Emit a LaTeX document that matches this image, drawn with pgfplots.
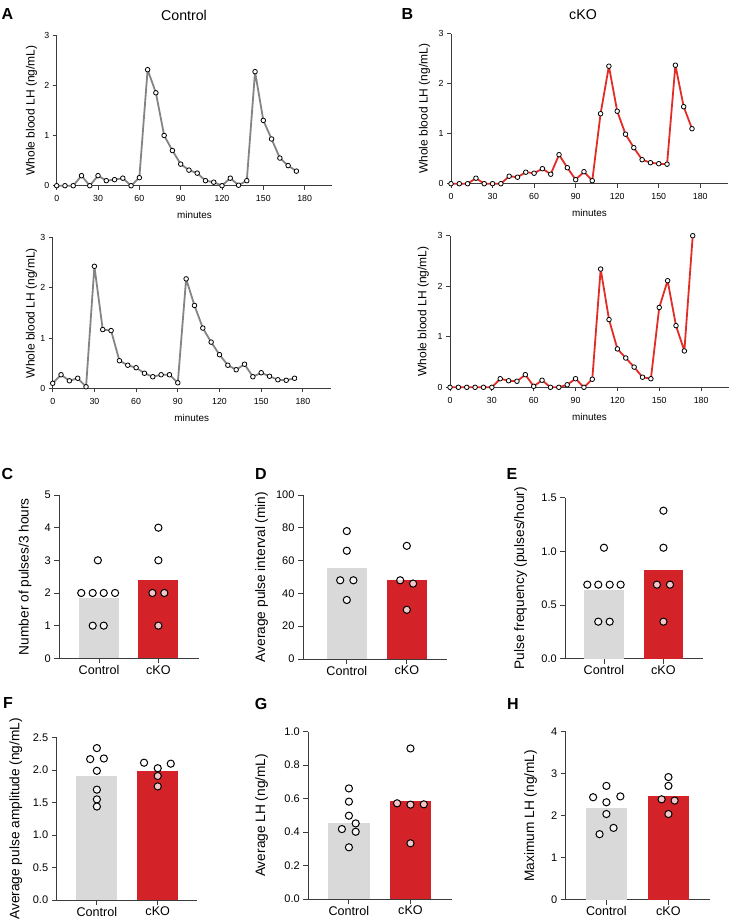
\documentclass[border=0pt]{standalone}
\usepackage{fontspec}
\setmainfont{Liberation Sans}
\usepackage{pgfplots}
\pgfplotsset{compat=1.18}

\definecolor{ctlgray}{RGB}{132,132,132}
\definecolor{kored}{RGB}{225,45,38}
\definecolor{bargray}{RGB}{217,217,217}
\definecolor{barred}{RGB}{211,35,41}
\definecolor{axgray}{RGB}{60,60,60}

\pgfplotsset{
  panel/.style={scale only axis, clip=false, anchor=south west,
    axis x line*=bottom, axis y line*=left,
    axis line style={-, axgray, line width=0.9pt},
    major tick style={axgray, line width=0.9pt},
    tick align=outside,
    /pgf/number format/assume math mode=true},
  lhtrace/.style={panel, xmin=0, xmax=200, ymin=0, ymax=3,
    xtick={0,30,...,180}, ytick={0,1,2,3}, major tick length=4pt,
    tick label style={font=\fontsize{8.8}{10}\selectfont},
    xticklabel style={yshift=-2.5pt},
    ylabel={Whole blood LH (ng/mL)},
    ylabel style={font=\fontsize{12}{14}\selectfont, anchor=center},
    xlabel={minutes},
    xlabel style={font=\fontsize{9.9}{12}\selectfont,
      at={(axis description cs:0.5,-0.195)}, anchor=center}},
  trace/.style={line width=1.8pt, line join=round, mark=*, mark size=2.3pt,
    mark options={fill=white, draw=black, line width=0.8pt}},
  barpanel/.style={panel, ymin=0, xtick={0,1}, xticklabels={Control,cKO},
    major tick length=5pt,
    yticklabel style={font=\fontsize{11}{13}\selectfont},
    xticklabel style={font=\fontsize{12.6}{14}\selectfont, yshift=1.5pt},
    ylabel style={font=\fontsize{13.7}{16}\selectfont, anchor=center}},
  onedec/.style={yticklabel style={/pgf/number format/.cd, fixed, fixed zerofill, precision=1}},
  mean/.style={ybar, bar width=0.67, bar shift=0pt, draw=none, fill=#1},
  dots/.style={only marks, mark=*, mark size=3.6pt,
    mark options={fill=white, fill opacity=0.75, draw=black, line width=1pt}},
}

% LH traces, sampled every 6 min
\pgfplotstableread{
t  ctlA  ctlB  koA   koB
0   0.00 0.10 0.00 0.00
6   0.00 0.27 0.00 0.00
12  0.00 0.15 0.00 0.00
18  0.20 0.20 0.11 0.00
24  0.00 0.03 0.00 0.00
30  0.20 2.43 0.00 0.00
36  0.10 1.17 0.00 0.17
42  0.12 1.15 0.15 0.13
48  0.15 0.55 0.13 0.12
54  0.00 0.46 0.23 0.25
60  0.16 0.41 0.21 0.02
66  2.31 0.30 0.30 0.14
72  1.85 0.23 0.19 0.00
78  1.00 0.27 0.58 0.00
84  0.70 0.27 0.32 0.05
90  0.43 0.11 0.08 0.17
96  0.31 2.18 0.24 0.00
102 0.25 1.65 0.06 0.16
108 0.10 1.20 1.40 2.34
114 0.07 0.92 2.35 1.34
120 0.00 0.67 1.45 0.76
126 0.15 0.46 0.99 0.58
132 0.01 0.37 0.72 0.40
138 0.10 0.48 0.48 0.20
144 2.27 0.23 0.42 0.17
150 1.30 0.31 0.40 1.58
156 0.93 0.24 0.39 2.11
162 0.55 0.17 2.37 1.22
168 0.40 0.16 1.54 0.72
174 0.29 0.20 1.10 3.00
}\lhdata

\begin{document}
\begin{tikzpicture}
\path[use as bounding box] (0pt,0pt) rectangle (755pt,-924pt);

% ---- A / B traces ----
\node[font=\bfseries\fontsize{16}{18}\selectfont] at (7.5pt,-14pt) {A};
\node[font=\bfseries\fontsize{16}{18}\selectfont] at (407.5pt,-14pt) {B};
\node[font=\fontsize{14.2}{16}\selectfont] at (184pt,-15pt) {Control};
\node[font=\fontsize{14.2}{16}\selectfont] at (583pt,-15pt) {cKO};

\begin{axis}[lhtrace, at={(56.7pt,-185.7pt)}, width=275.5pt, height=150.7pt,
  ylabel style={at={(axis description cs:-0.091,0.5)}}]
  \addplot[trace, ctlgray] table[x=t, y=ctlA] {\lhdata};
\end{axis}
\begin{axis}[lhtrace, at={(52.7pt,-388.3pt)}, width=278pt, height=150.6pt,
  ylabel style={at={(axis description cs:-0.076,0.5)}}]
  \addplot[trace, ctlgray] table[x=t, y=ctlB] {\lhdata};
\end{axis}
\begin{axis}[lhtrace, at={(451pt,-183.7pt)}, width=277pt, height=150pt,
  ylabel style={at={(axis description cs:-0.096,0.5)}}]
  \addplot[trace, kored] table[x=t, y=koA] {\lhdata};
\end{axis}
\begin{axis}[lhtrace, at={(450pt,-387.3pt)}, width=279pt, height=151.6pt,
  ylabel style={at={(axis description cs:-0.096,0.5)}}]
  \addplot[trace, kored] table[x=t, y=koB] {\lhdata};
\end{axis}

% ---- C-H summaries ----
\foreach \l/\x/\y in {C/7.5/474, D/261/474, E/512/474, F/8/702.5, G/261/704, H/513/704}
  \node[font=\bfseries\fontsize{16}{18}\selectfont] at (\x pt,-\y pt) {\l};

\begin{axis}[barpanel, at={(59.3pt,-658.3pt)}, width=140pt, height=163.3pt,
  xmin=-0.67, xmax=1.69, ymax=5, ytick={0,...,5},
  ylabel={Number of pulses/3 hours},
  ylabel style={at={(axis description cs:-0.245,0.5)}}]
  \addplot[mean=bargray] coordinates {(0,1.857)};
  \addplot[mean=barred] coordinates {(1,2.4)};
  \addplot[dots] coordinates {(-0.02,3) (-0.30,2) (-0.107,2) (0.079,2) (0.27,2) (-0.107,1) (0.079,1)};
  \addplot[dots] coordinates {(1,4) (1,3) (0.9,2) (1.1,2) (1,1)};
\end{axis}

\begin{axis}[barpanel, at={(303pt,-659pt)}, width=144pt, height=164pt,
  xmin=-0.73, xmax=1.67, ymax=100, ytick={0,20,...,100},
  ylabel={Average pulse interval (min)},
  ylabel style={at={(axis description cs:-0.287,0.5)}}]
  \addplot[mean=bargray] coordinates {(0,55.2)};
  \addplot[mean=barred] coordinates {(1,48.25)};
  \addplot[dots] coordinates {(0,78) (0,66) (-0.11,48) (0.11,48) (0,36)};
  \addplot[dots] coordinates {(1,69) (0.89,48) (1.105,46) (1,30)};
\end{axis}

\begin{axis}[barpanel, onedec, at={(565.3pt,-658.7pt)}, width=137.4pt, height=161pt,
  xmin=-0.65, xmax=1.66, ymax=1.5, ytick={0,0.5,1,1.5},
  ylabel={Pulse frequency (pulses/hour)},
  ylabel style={at={(axis description cs:-0.325,0.5)}}]
  \addplot[mean=bargray] coordinates {(0,0.64)};
  \addplot[mean=barred] coordinates {(1,0.829)};
  \addplot[dots] coordinates {(0,1.034) (-0.28,0.69) (-0.096,0.69) (0.096,0.69) (0.28,0.69) (-0.096,0.345) (0.096,0.345)};
  \addplot[dots] coordinates {(1,1.379) (1,1.034) (0.89,0.69) (1.11,0.69) (1,0.345)};
\end{axis}

\begin{axis}[barpanel, onedec, at={(56.7pt,-900pt)}, width=140.6pt, height=162.3pt,
  xmin=-0.66, xmax=1.65, ymax=2.5, ytick={0,0.5,...,2.5},
  ylabel={Average pulse amplitude (ng/mL)},
  ylabel style={at={(axis description cs:-0.29,0.5)}}]
  \addplot[mean=bargray] coordinates {(0,1.91)};
  \addplot[mean=barred] coordinates {(1,1.98)};
  \addplot[dots] coordinates {(0,2.34) (-0.11,2.17) (0.115,2.18) (0,1.99) (0,1.70) (0,1.55) (0,1.44)};
  \addplot[dots] coordinates {(0.775,2.115) (1,2.03) (1.214,2.10) (1,1.91) (1,1.75)};
\end{axis}

\begin{axis}[barpanel, onedec, at={(308.3pt,-899pt)}, width=143.4pt, height=167.3pt,
  xmin=-0.66, xmax=1.67, ymax=1, ytick={0,0.2,...,1},
  ylabel={Average LH (ng/mL)},
  ylabel style={at={(axis description cs:-0.325,0.5)}}]
  \addplot[mean=bargray] coordinates {(0,0.452)};
  \addplot[mean=barred] coordinates {(1,0.586)};
  \addplot[dots] coordinates {(0,0.661) (0,0.582) (0,0.498) (0.11,0.452) (-0.114,0.418) (0.11,0.402) (0,0.309)};
  \addplot[dots] coordinates {(1,0.90) (0.783,0.572) (1,0.564) (1.217,0.566) (1,0.333)};
\end{axis}

\begin{axis}[barpanel, at={(565.7pt,-899.7pt)}, width=144.3pt, height=168pt,
  xmin=-0.656, xmax=1.67, ymax=4, ytick={0,...,4},
  ylabel={Maximum LH (ng/mL)},
  ylabel style={at={(axis description cs:-0.243,0.5)}}]
  \addplot[mean=bargray] coordinates {(0,2.18)};
  \addplot[mean=barred] coordinates {(1,2.48)};
  \addplot[dots] coordinates {(0,2.71) (-0.214,2.44) (0.225,2.46) (0,2.32) (0,2.04) (0.115,1.71) (-0.11,1.56)};
  \addplot[dots] coordinates {(1,2.92) (1,2.71) (0.89,2.39) (1.1,2.36) (1,2.04)};
\end{axis}
\end{tikzpicture}
\end{document}
